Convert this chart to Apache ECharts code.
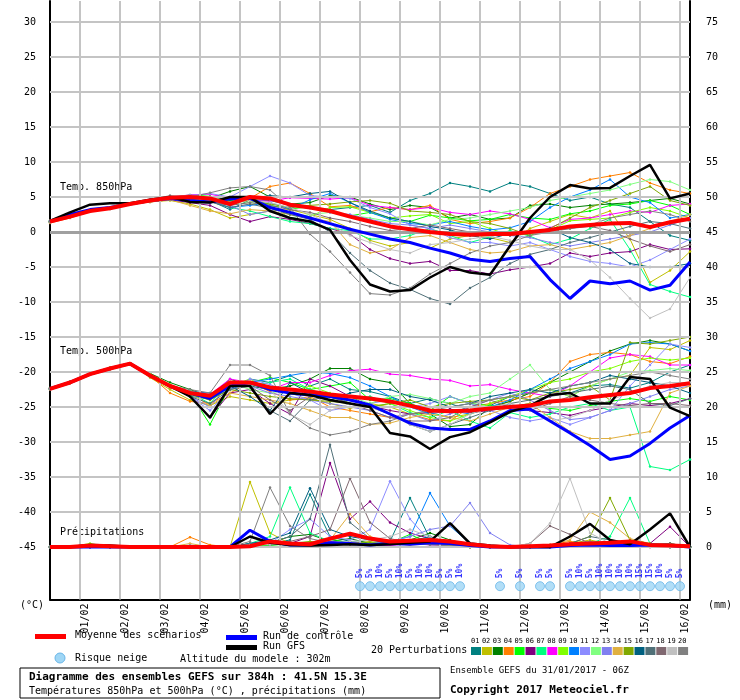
<!DOCTYPE html>
<html><head><meta charset="utf-8">
<script src="https://cdn.jsdelivr.net/npm/echarts@6/dist/echarts.min.js"></script>
<style>body{margin:0;background:#fff}#c{width:740px;height:700px}</style>
</head><body><div id="c"></div>
<script>
// 12h steps, 0..384h
var hours = [];
for (var h = 0; h <= 384; h += 12) hours.push(h);
var dates = ['01/02','02/02','03/02','04/02','05/02','06/02','07/02','08/02','09/02','10/02','11/02','12/02','13/02','14/02','15/02','16/02'];
var pertColors = ['#008080','#c0c000','#008000','#ff8000','#00ff00','#800080','#00ff80','#ff00ff','#80ff00','#0080ff','#8c8cff','#80ff80','#8080f0','#e0b040','#80a800','#006080','#507078','#806870','#c0c0c0','#808080'];

var mean850 = [1.5,2.2,3,3.4,4,4.5,4.9,5,4.8,4,5,4.8,3.9,3.5,3,2.2,1.5,0.8,0.4,0,-0.3,-0.4,-0.3,-0.3,0,0.3,0.8,1,1.2,1.3,0.7,1.4,1.9];
var ctrl850 = [1.5,2.5,3.2,3.5,4,4.5,4.8,4.5,4.3,4.8,4.8,3.5,2.8,2,1.2,0.4,-0.3,-1,-1.5,-2.3,-3,-3.9,-4.2,-3.8,-3.5,-6.8,-9.5,-7,-7.4,-7,-8.3,-7.6,-4.3];
var gfs850 = [1.6,2.8,3.9,4.1,4.1,4.6,5,4.3,4.2,5,5,3,2,1.5,0.3,-4,-7.5,-8.5,-8.3,-6.5,-5,-5.8,-6.1,-2,2,5,6.7,6.2,6.3,8,9.6,4.8,5.5];
var pert850 = [
 [1.6,2.3,3.1,3.5,4.1,4.5,4.8,4.7,4.5,3.2,4.6,4.5,3.8,3.6,3.2,3.5,3.8,2.8,4.5,5.5,7,6.5,5.8,7,6.5,5.5,4.5,5,4,3.5,1.5,-0.5,-1.2],
 [1.4,2.1,2.9,3.3,4,4.3,4.5,4,3.2,2,2.5,3,3.2,2.5,1.8,0.5,-1.2,-2,-1.5,-2.3,-1,-0.5,-0.8,-1.5,0.5,1.5,2.5,2,3,-1,-7.2,-5.5,-2.8],
 [1.5,2.2,3,3.4,4,4.5,5,5,4.8,5.8,6.5,5,4,4.2,5.2,5,4,3.2,3.8,3.5,2,2.5,1.8,2,3.8,4,3.5,3.8,4,4.2,4.5,4.8,4],
 [1.3,2,2.9,3.4,4,4.4,4.8,4.7,4.6,4,4.8,6.5,7,5.5,3.6,3.8,2.9,3.5,3.2,3.8,1.8,1.2,1.5,2,3.5,5.5,6.5,7.5,8,8.5,7,6,5.5],
 [1.5,2.2,3,3.5,4.1,4.5,4.9,5.3,5.1,4.5,5,3.8,3.3,3.6,3,2.3,2.8,2,1.5,2.4,2,1.6,1.8,2.5,2,1.8,2.6,3,3.8,4,4.5,3.8,2.5],
 [1.5,2.2,3,3.4,3.9,4.3,4.6,4.2,3.8,2.5,1.5,2.2,1.8,1.2,0.5,-0.3,-2.5,-3.8,-4.5,-4.2,-5.5,-5.5,-6,-5.4,-5,-4.5,-3,-3.5,-3,-2.8,-1.8,-2.5,-2.4],
 [1.6,2.3,3.1,3.5,4.1,4.5,4.8,4.7,4.5,3.5,3,2.2,1.5,1.2,0.5,0.2,-1,-1,-0.5,0.5,-0.5,-1.5,-0.7,0.2,-0.6,-1.8,-1,0.5,1.8,-2.5,-7.5,-8.5,-9.3],
 [1.5,2.2,3,3.5,4.1,4.6,5,5.3,5.4,4.8,4.5,4.4,4.9,4.8,4.7,4.9,3.8,3.5,3.2,3.5,2.8,2.5,3,2.6,1.8,0.6,1.8,2,2.5,3,2.8,3.8,4],
 [1.6,2.3,3.1,3.5,4.1,4.5,5,5.2,4.8,4.3,4.5,3.6,2.5,2.2,3.5,3.6,2.8,2,2.3,2.5,1.2,1.5,0.5,-0.5,-0.3,0.3,1.6,1.8,2,2.8,3.5,3,2],
 [1.4,2.1,2.9,3.3,4,4.4,4.7,4.5,4.4,3.5,3.8,4.2,3.3,4.6,5.5,4.2,2.8,1.8,1.2,1,1.5,0.8,0.3,0.6,1.5,3.5,5,6,7.5,5,4.2,2,2.5],
 [1.5,2.2,3,3.4,4,4.5,4.9,5.2,5.5,5,6.5,8,7,5.2,5,4.8,3.5,2.6,1,0.5,-0.8,-1.5,-1.5,-2,-1.5,-2.5,-3.5,-4.2,-4.5,-5,-4,-2.5,-1],
 [1.5,2.2,3,3.4,4,4.5,4.8,5,4.6,4,4.2,3.8,2,2.5,2.8,2.4,2,1.5,1.5,1,1.8,2,2.5,3,3.5,4.5,5,5.5,6,6.8,7.5,7.2,6],
 [1.6,2.3,3,3.4,4,4.5,4.9,4.8,4.5,3.8,2.5,3,3.8,3.4,2.8,2.5,1.8,1.2,1,0.5,1,0.5,0,-0.5,-0.8,-1.5,-2,-1.5,-1,-0.5,0,1,2],
 [1.4,2.1,3,3.4,3.9,4.3,4.6,3.8,3,2.6,3.2,3,2.5,2,1.5,-1.8,-3,-2.5,-0.8,-0.5,-1.5,-2.5,-3,-2.8,-2,-1.8,-2.5,-2,-1.5,-0.5,0.5,1.5,2.5],
 [1.5,2.2,3,3.4,4,4.4,4.8,4.6,4.4,4.2,4.5,4,3.5,3.8,4,4.3,4.5,4.1,3,2.8,2.5,1.5,1.2,0.5,-0.5,0.5,2,3.5,4.5,5.5,6.5,4.5,3.8],
 [1.5,2.2,3,3.4,4,4.5,4.9,5,4.7,4.5,4.8,5.2,5,5.5,5.8,4.2,3,2,1.5,0.8,0.3,-0.5,-1,-0.2,0,0.5,-0.8,-1.5,-2.5,-4.5,-5,-5,-4.5],
 [1.5,2.2,3,3.4,4,4.5,4.8,4.6,4.3,3.5,4,3.4,2.5,1.8,0,-3,-5.5,-7.3,-8.2,-9.5,-10.3,-8,-6.5,-4.5,-3.2,-2.5,-1.5,-0.8,0,0.8,1.5,1.2,0.5],
 [1.5,2.2,3,3.4,4,4.5,4.8,4.6,4.3,3.8,4.2,3.8,3.2,2.8,2,1.5,0.8,0.2,0.5,1,0.5,0,-0.3,-0.5,-0.2,0.2,0.5,0.8,0.2,-1,-2,-2.8,-1.8],
 [1.5,2.2,3,3.4,4,4.5,4.9,5,4.7,4.2,4.5,4.2,3.5,2.5,1.2,-0.5,-1.5,-2.5,-3,-1.8,-1.5,-1,-0.6,-1.2,-2,-2.5,-2.5,-4,-6.5,-9.5,-12.3,-11,-6.5],
 [1.5,2.2,3,3.4,4,4.6,5.2,5,5.6,6.3,6.5,6,3.5,-0.3,-2.8,-5.8,-8.8,-9,-8,-6,-4.5,-3,-2,-1.5,-0.5,0,0.5,1,2,2.5,3,2.5,1.5]
];

var mean500 = [-22.4,-21.5,-20.3,-19.5,-18.8,-20.5,-22,-23,-23.4,-21.5,-21.5,-22.2,-22.5,-22.8,-23.2,-23.5,-23.8,-24.2,-24.8,-25.5,-25.6,-25.5,-25.2,-25,-24.8,-24.2,-24,-23.6,-23.3,-23,-22.3,-22,-21.6];
var ctrl500 = [-22.4,-21.5,-20.3,-19.5,-18.8,-20.5,-22,-23,-23.8,-22,-21.5,-22.5,-23,-23.3,-23.5,-24,-24.7,-26,-27.3,-28,-28.2,-28.2,-27,-25.5,-25.3,-27,-28.7,-30.5,-32.5,-32,-30.2,-28,-26.2];
var gfs500 = [-22.4,-21.5,-20.3,-19.5,-18.8,-20.5,-22,-23.5,-26.5,-22,-22,-26,-23,-23.3,-24,-24.5,-25,-28.7,-29.2,-31,-29.3,-28.6,-27.2,-25.7,-24.8,-23.3,-23,-24.5,-24.5,-20.7,-21,-25.1,-26.3];
var pert500 = [
 [-22.4,-21.5,-20.4,-19.6,-18.8,-20.7,-22.2,-23.5,-23.8,-22.5,-21,-21.5,-20.5,-22,-21,-22.5,-22.8,-23.5,-24.5,-23.8,-24.5,-25.5,-24.8,-23.5,-23,-22.5,-23,-22,-21.8,-22.3,-21.5,-20,-19],
 [-22.4,-21.4,-20.2,-19.4,-18.7,-20.8,-22.5,-24,-24.8,-23.5,-24,-24.5,-24,-23.8,-24.5,-25.2,-24.5,-25,-26,-25.8,-26.5,-26,-25.2,-24.2,-23,-22.5,-23.5,-22,-21,-20.5,-16.5,-16.8,-15.5],
 [-22.3,-21.5,-20.2,-19.4,-18.9,-20.2,-21.5,-22.5,-23.5,-21,-22,-22.5,-22,-21,-19.5,-19.5,-21,-21.5,-24.5,-26,-27.8,-27.5,-25,-24.2,-23,-21.5,-20,-18.5,-17,-16,-15.5,-16,-17],
 [-22.5,-21.6,-20.4,-19.6,-18.9,-20.5,-23,-24.2,-24.5,-23,-21.5,-22.8,-24,-23.5,-25,-25.5,-26,-26.5,-26,-26.8,-27,-25,-24.5,-24,-23.5,-21.5,-18.5,-17.5,-17.2,-17.5,-18.5,-18.8,-17.8],
 [-22.4,-21.5,-20.3,-19.5,-18.9,-20.4,-22,-23,-27.5,-22,-21.5,-20.8,-21.5,-22.5,-22,-21.5,-24,-23.8,-24.5,-25.5,-23.5,-24.5,-24.8,-25,-24.5,-25.2,-25.5,-24.8,-24.2,-23.8,-24.2,-23.5,-24],
 [-22.4,-21.5,-20.3,-19.5,-18.8,-20.5,-22,-23.2,-26.5,-23,-22.5,-24.5,-26,-21,-22,-23.5,-24.8,-25.5,-26,-25.8,-25.3,-25.8,-25.5,-25,-25.5,-25.8,-26.2,-25.5,-25,-24.5,-24.8,-24.5,-23.8],
 [-22.4,-21.5,-20.3,-19.5,-18.8,-20.4,-22,-23,-24.5,-21.5,-22,-21.5,-21,-22.5,-23.5,-24,-23.5,-24.5,-25.8,-26.5,-25.5,-27,-28,-25.8,-26.5,-26,-25,-24.5,-25.5,-25,-33.5,-34,-32.5],
 [-22.4,-21.5,-20.3,-19.5,-18.8,-20.5,-22,-23,-23.2,-21,-21.5,-22.5,-21.5,-21.5,-20.5,-19.8,-19.6,-20.3,-20.5,-21,-21.2,-22,-21.8,-22.5,-23,-23.5,-22,-20,-18,-17.5,-17.8,-19,-19],
 [-22.3,-21.4,-20.3,-19.5,-18.8,-20.3,-21.8,-23,-24,-22,-21,-22.5,-23,-22,-23,-24.5,-25,-24.5,-25.5,-26.5,-27,-26,-24.5,-23.5,-22.5,-21.5,-21,-20,-19.5,-18.5,-18,-18.3,-18],
 [-22.4,-21.5,-20.3,-19.5,-18.8,-20.5,-22,-22.8,-23,-22.5,-21.5,-21,-20.5,-20,-20.2,-20.8,-22,-23.5,-25,-26,-25.5,-26,-25,-24,-22.5,-21,-19.5,-18.5,-17.5,-16,-15.8,-16,-17],
 [-22.4,-21.5,-20.3,-19.5,-18.8,-20.5,-22,-23.5,-25.5,-22.5,-21,-21.8,-23,-24,-25.5,-25,-24.5,-24,-25,-24.5,-23.5,-24.5,-25.5,-26.5,-27,-26.5,-27.5,-26.5,-25.5,-22,-19,-16,-16.5],
 [-22.4,-21.5,-20.3,-19.5,-18.8,-20.4,-21.8,-22.8,-23.5,-21.5,-22.5,-23,-22.5,-23,-24,-23.5,-24.5,-23.5,-23.2,-23.8,-24.5,-23.5,-23,-21,-19,-22.5,-23.5,-22,-21,-20,-19.8,-19.5,-19.8],
 [-22.4,-21.5,-20.3,-19.5,-18.8,-20.5,-22,-23.5,-25,-21.5,-22,-23,-23.5,-24,-24.5,-25,-25.5,-26.5,-26,-27,-26,-25,-24,-23,-24,-25.5,-26.8,-26.5,-25.5,-24.5,-23.5,-22.5,-22],
 [-22.4,-21.5,-20.3,-19.5,-18.8,-20.5,-22,-23,-24.8,-23,-23.5,-24,-24.5,-25.5,-26.5,-26.5,-27.5,-27.3,-26.5,-26,-26.5,-27,-26,-25,-24.5,-26.5,-28.5,-29.5,-29.5,-29,-28.5,-23,-22],
 [-22.4,-21.5,-20.3,-19.5,-18.8,-20.5,-22,-23.2,-24,-22.5,-23,-23.5,-23.8,-24,-24.2,-24.5,-25,-24.5,-24,-25,-24.5,-24.2,-24,-23.5,-24,-23,-22.5,-22,-24,-15.8,-16,-15.5,-15],
 [-22.3,-21.4,-20.3,-19.5,-18.9,-20.6,-22,-23.2,-23.6,-22,-23.5,-25.5,-21.5,-23,-24,-23,-22.5,-22.5,-23.5,-24,-25,-24.5,-23.5,-23,-22.5,-23,-22,-21.5,-20.5,-21,-21.5,-22,-23],
 [-22.4,-21.5,-20.3,-19.5,-18.8,-20.5,-22,-23.5,-24.5,-22.5,-22,-25.5,-27,-24,-23.5,-24.5,-25,-26,-27.5,-28.5,-27.5,-26.5,-25.5,-24.5,-24,-23.5,-23,-22.5,-22,-22.5,-24.5,-24.8,-23.8],
 [-22.4,-21.5,-20.3,-19.5,-18.8,-20.5,-22,-23,-23.5,-21.5,-22,-24,-25.5,-23.5,-23.5,-24.5,-25.5,-26.5,-27,-27,-26.5,-25,-24,-25,-25.5,-24.5,-23.5,-24,-24.5,-24.8,-24.5,-24.5,-24.8],
 [-22.4,-21.5,-20.3,-19.5,-18.8,-20.5,-22,-23,-23.5,-22,-21.8,-22.5,-26,-27.5,-25.5,-24.5,-25,-26,-27.5,-28.5,-27.5,-26,-25,-24.5,-25.5,-27,-26.5,-25.5,-24,-23,-22,-21.5,-21.5],
 [-22.5,-21.6,-20.4,-19.6,-18.9,-20.5,-22,-22.5,-23,-19,-19,-20.5,-26,-28,-29,-28.5,-27.5,-27,-26,-25.5,-25,-24.5,-24,-23.5,-23,-22.5,-22,-21.5,-21,-20.5,-20,-20.5,-21]
];

// precipitation, mm (right axis)
var meanRR = [0,0,0.2,0.1,0,0,0,0,0,0,0.1,0.8,0.5,0.4,1.2,1.9,1.2,0.8,0.9,1,0.8,0.4,0.1,0,0.1,0.2,0.4,0.5,0.6,0.8,0.3,0.2,0.1];
var ctrlRR = [0,0,0,0,0,0,0,0,0,0,2.4,0.8,0.3,0.3,0.6,0.5,0.3,0.5,0.4,0.6,0.5,0.2,0,0,0,0,0.2,0.3,0.2,0.2,0.3,0.2,0];
var gfsRR = [0,0,0.3,0.2,0,0,0,0,0,0,1.5,0.6,0.3,0.2,0.3,0.4,0.3,0.4,0.6,0.8,3.4,0.5,0.2,0,0,0,1.5,3.3,1,0.4,2.5,4.8,0];
var pertRR = [
 [0,0,0,0,0,0,0,0,0,0,0.3,0.5,1,7.5,1.5,0.8,0.5,0.8,7,1.2,0.5,0.3,0,0,0,0,0.2,0.5,0.3,0.2,0,0.3,0],
 [0,0,0.4,0,0,0,0,0,0,0,9.3,2,0.5,0.3,0.2,0.5,0.8,0.3,0.6,0.4,0.2,0,0,0,0,0.3,0.5,1,0.4,0.2,0.5,0.3,0],
 [0,0,0.3,0,0,0,0,0,0,0,0.5,0.6,1.5,1.8,0.8,1.2,0.5,0.6,1,2,1,0.3,0,0,0,0,0.2,0.3,0.5,0.2,0.3,0.5,0],
 [0,0,0,0,0,0,0,1.4,0.3,0,0.5,0.4,0.5,0.3,0.8,0.6,0.4,0.5,0.3,0.7,0.2,0,0,0,0,0.3,0.8,0.5,0.3,0.2,0,0,0],
 [0,0,0.3,0.1,0,0,0,0,0,0,0.3,0.2,0.5,0.4,1.2,0.5,0.3,0.6,1.8,0.5,0.2,0,0,0,0,0.2,0.5,0.3,0.4,0.8,0.2,0,0],
 [0,0,0,0,0,0,0,0,0,0,0.4,0.8,0.5,1.5,12,4,6.5,3.5,2,1.2,0.5,0.3,0,0,0,0,0.3,0.5,0.3,0.4,0.5,2.9,0],
 [0,0,0,0,0,0,0,0,0,0,0.5,1.5,8.5,2,0.8,0.5,0.5,0.8,0.4,0.6,0.3,0,0,0,0,0,0.2,0.5,1.5,7,0.5,0.2,0],
 [0,0,0,0,0,0,0,0,0,0,0.3,0.4,0.5,0.3,0.8,0.4,0.3,0.2,0.5,0.3,0.2,0,0,0,0,0.2,0.3,0.2,0.4,0.2,0,0.2,0],
 [0,0,0.5,0,0,0,0,0,0,0,0.4,0.3,0.6,0.5,0.5,0.4,0.6,0.5,1,0.8,0.3,0.2,0,0,0,0,0.2,0.4,0.5,0.3,0.2,0,0],
 [0,0,0,0,0,0,0,0,0,0,0.5,0.8,0.6,0.4,0.5,0.5,0.4,0.8,1.5,7.7,3,0.5,0.2,0,0,0,0.3,0.2,0.4,0.3,0.2,0,0],
 [0,0,0,0,0,0,0,0,0,0,0.3,0.5,2.5,4,1.5,1,2.5,9.4,4,0.8,0.5,0.4,0.2,0,0,0,0.3,0.5,0.3,0.2,0.3,0,0],
 [0,0,0,0,0,0,0,0,0,0,0.3,0.5,0.4,0.6,0.5,0.4,0.3,0.5,0.4,0.6,0.3,0.2,0,0,0,0.2,0.4,0.3,0.2,0.3,0.2,0,0],
 [0,0,0,0,0,0,0,0,0,0,0.4,0.3,0.5,0.4,0.6,0.5,0.5,0.8,1.5,2.5,3,6.3,2,0.3,0,0,0.2,0.3,0.2,0.3,0.2,0,0],
 [0,0,0,0,0,0,0,0.5,0,0,0.3,0.5,0.4,0.6,1,4.7,1.5,0.5,0.3,0.4,0.2,0,0,0,0,0.3,1,5,3.5,1.2,0.5,0.2,0],
 [0,0,0,0,0,0,0,0,0,0,0.3,0.4,0.5,0.8,0.5,0.4,0.6,0.4,0.5,0.6,0.3,0,0,0,0,0.3,0.5,1.5,7,1,0.5,0.3,0],
 [0,0,0,0,0,0,0,0,0,0,0.5,1,2,8.4,2.5,1.5,1,0.5,0.8,1.5,0.5,0.3,0,0,0,0,0.3,0.5,0.2,0.3,0.2,0,0],
 [0,0,0,0,0,0,0,0,0,0,0.4,0.6,1.5,4,14.6,3.5,1.2,0.8,0.5,0.4,0.3,0,0,0,0,0.2,0.5,1.5,1,0.5,0.3,0.2,0],
 [0,0,0,0,0,0,0,0,0,0,0.3,0.5,0.8,1.5,2.5,9.8,3.5,1.2,0.6,0.5,0.2,0,0,0,0.5,3,1.8,0.5,0.8,0.4,0.2,0.5,0],
 [0,0,0,0,0,0,0,0.3,0,0,0.3,0.4,0.5,0.4,0.6,0.8,1,1.5,2.5,1.5,0.5,0.3,0.2,0,0.5,3.4,9.8,2,0.5,0.3,0.2,0.3,0],
 [0,0,0,0,0,0,0,0.2,0,0,0.8,8.5,3,1.2,0.6,0.5,0.4,0.5,0.6,0.3,0.2,0,0,0,0,0.3,0.5,0.8,0.5,0.3,0.2,0,0]
];

// snow risk (hours, %)
var snowHours = [186,192,198,204,210,216,222,228,234,240,246,270,282,294,300,312,318,324,330,336,342,348,354,360,366,372,378];
var snowPct = [5,5,10,5,10,5,10,10,5,5,10,5,5,5,5,5,10,5,10,10,10,10,15,15,10,5,5];

var font = 'DejaVu Sans Mono';
function pts(arr) { return arr.map(function (v, i) { return [hours[i], v]; }); }

var series = [];
var gridLines = [];
for (var g = 18; g <= 384; g += 24) gridLines.push({xAxis: g});
for (var y = -45; y <= 30; y += 5) gridLines.push({yAxis: y, lineStyle: y === 0 ? {color: '#a0a0a0', width: 3} : undefined});
series.push({type: 'line', data: [], silent: true,
    markLine: {silent: true, symbol: 'none', label: {show: false}, animation: false,
        lineStyle: {color: '#c4c4c4', width: 2, type: 'solid'}, data: gridLines}});

function thin(arr, color, axis) {
    series.push({type: 'line', data: pts(arr), yAxisIndex: axis, symbol: 'circle', symbolSize: 2.5,
        itemStyle: {color: color}, lineStyle: {color: color, width: 1}, animation: false, z: 3});
}
function thick(arr, color, w, axis) {
    series.push({type: 'line', data: pts(arr), yAxisIndex: axis, symbol: 'none',
        lineStyle: {color: color, width: w}, animation: false, z: w === 4 ? 6 : 5});
}
for (var i = 0; i < 20; i++) {
    thin(pert850[i], pertColors[i], 0);
    thin(pert500[i], pertColors[i], 0);
    thin(pertRR[i], pertColors[i], 1);
}
[[ctrl850, 0], [ctrl500, 0], [ctrlRR, 1]].forEach(function (s) { thick(s[0], '#0000ff', 3, s[1]); });
[[gfs850, 0], [gfs500, 0], [gfsRR, 1]].forEach(function (s) { thick(s[0], '#000000', 2.5, s[1]); });
[[mean850, 0], [mean500, 0], [meanRR, 1]].forEach(function (s) { thick(s[0], '#ff0000', 4, s[1]); });

series.push({type: 'scatter', symbol: 'circle', symbolSize: 9, animation: false, z: 7,
    itemStyle: {color: '#9fd6f5', borderColor: '#6ab6e8', borderWidth: 1},
    data: snowHours.map(function (h, i) { return {value: [h, -50.6], pct: snowPct[i]}; }),
    label: {show: true, position: 'top', distance: 3, rotate: 90, align: 'left', verticalAlign: 'middle',
        color: '#0000ff', fontSize: 8, fontFamily: font, fontWeight: 'bold',
        formatter: function (p) { return p.data.pct + '%'; }}});

var tickVals = [];
for (var t = 18; t <= 384; t += 24) tickVals.push(t);
var leftVals = [], rightVals = [];
for (var v = -45; v <= 30; v += 5) { leftVals.push(v); rightVals.push(v + 45); }

var txt = function (x, y, s, extra) {
    return {type: 'text', left: x, top: y, style: Object.assign({text: s, font: '10px ' + font, fill: '#000'}, extra || {})};
};
var graphic = [
    txt(60, 182, 'Temp. 850hPa'), txt(60, 346, 'Temp. 500hPa'), txt(60, 527, 'Précipitations'),
    txt(20, 600, '(°C)'), txt(708, 600, '(mm)'),
    {type: 'rect', shape: {x: 35, y: 634, width: 31, height: 5}, style: {fill: '#ff0000'}},
    txt(75, 630, 'Moyenne des scénarios'),
    {type: 'rect', shape: {x: 226, y: 635, width: 31, height: 5}, style: {fill: '#0000ff'}},
    txt(263, 631, 'Run de contrôle'),
    {type: 'rect', shape: {x: 226, y: 645, width: 31, height: 5}, style: {fill: '#000'}},
    txt(263, 641, 'Run GFS'),
    {type: 'circle', shape: {cx: 60, cy: 658, r: 5}, style: {fill: '#9fd6f5', stroke: '#6ab6e8'}},
    txt(75, 653, 'Risque neige'),
    txt(180, 654, 'Altitude du modele : 302m'),
    txt(371, 645, '20 Perturbations'),
    {type: 'rect', shape: {x: 20, y: 668, width: 420, height: 30}, style: {fill: 'none', stroke: '#000', lineWidth: 1}},
    txt(29, 672, 'Diagramme des ensembles GEFS sur 384h : 41.5N 15.3E', {font: 'bold 11px ' + font}),
    txt(29, 686, 'Températures 850hPa et 500hPa (°C) , précipitations (mm)', {font: '10px ' + font}),
    txt(450, 666, 'Ensemble GEFS du 31/01/2017 - 06Z', {font: '9px ' + font}),
    txt(450, 685, 'Copyright 2017 Meteociel.fr', {font: 'bold 11px ' + font})
];
pertColors.forEach(function (c, i) {
    var x = 471 + i * 10.9;
    graphic.push({type: 'rect', shape: {x: x, y: 647, width: 10, height: 8}, style: {fill: c}});
    graphic.push(txt(x, 638, (i < 9 ? '0' : '') + (i + 1), {font: '7px ' + font}));
});

var chart = echarts.init(document.getElementById('c'), null, {renderer: 'canvas'});
chart.setOption({
    backgroundColor: '#fff',
    animation: false,
    grid: {left: 50, right: 50, top: 1, bottom: 100.5},
    xAxis: {type: 'value', min: 0, max: 384,
        axisLine: {show: true, onZero: false, lineStyle: {color: '#000', width: 2}},
        axisTick: {show: false}, splitLine: {show: false},
        axisLabel: {customValues: tickVals, rotate: 90, color: '#000', fontSize: 10, fontFamily: font, margin: 4,
            verticalAlign: 'top',
            formatter: function (val) { return dates[Math.round((val - 18) / 24)] || ''; }}},
    yAxis: [
        {type: 'value', min: -52.5, max: 33, splitLine: {show: false}, axisTick: {show: false},
            axisLine: {show: true, lineStyle: {color: '#000', width: 2}},
            axisLabel: {customValues: leftVals, color: '#000', fontSize: 10, fontFamily: font, margin: 14}},
        {type: 'value', min: -7.5, max: 78, position: 'right', splitLine: {show: false}, axisTick: {show: false},
            axisLine: {show: true, lineStyle: {color: '#000', width: 2}},
            axisLabel: {customValues: rightVals, color: '#000', fontSize: 10, fontFamily: font, margin: 16}}
    ],
    series: series,
    graphic: graphic
});
</script></body></html>
